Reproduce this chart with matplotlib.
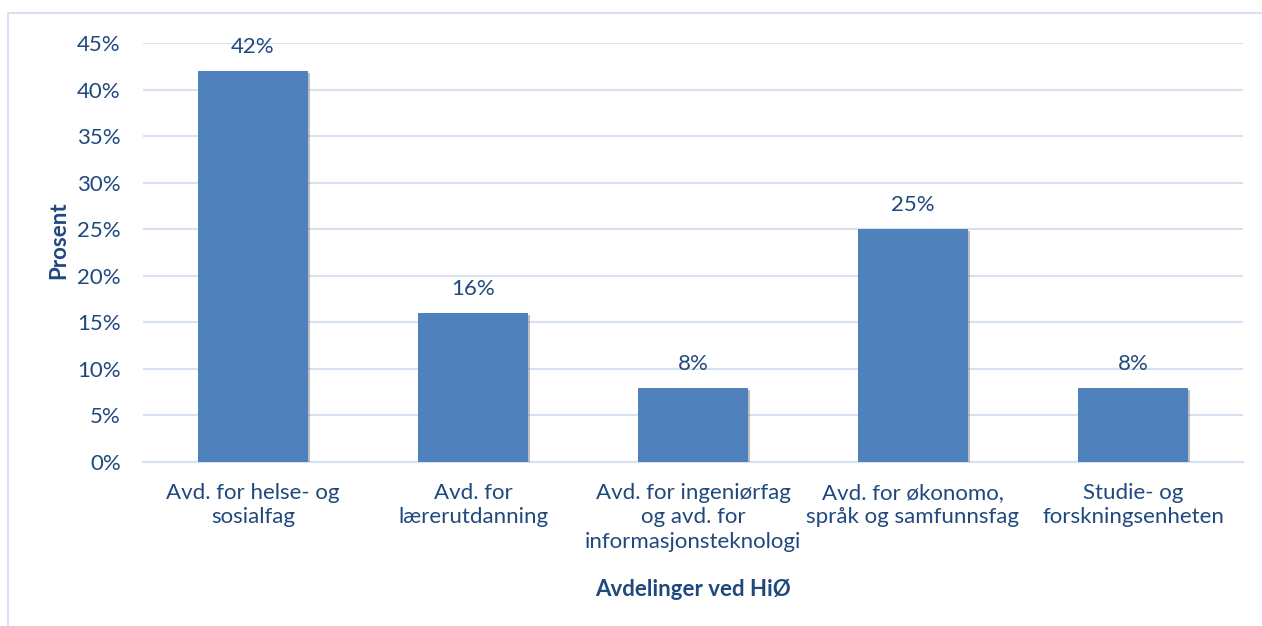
import matplotlib.pyplot as plt
import matplotlib.patches as mpatches
import matplotlib.patheffects as pe
from matplotlib.ticker import PercentFormatter

categories = ['Avd. for helse- og\nsosialfag', 'Avd. for\nlærerutdanning',
              'Avd. for ingeniørfag\nog avd. for\ninformasjonsteknologi',
              'Avd. for økonomo,\nspråk og samfunnsfag', 'Studie- og\nforskningsenheten']
values = [42, 16, 8, 25, 8]
yticks = [0, 5, 10, 15, 20, 25, 30, 35, 40, 45]

text_col = '#1F497D'
grid_col = '#D6E2F2'
fs = 16

plt.rcParams['font.family'] = ['Lato', 'DejaVu Sans']

fig = plt.figure(figsize=(12.62, 6.26), dpi=100)
ax = fig.add_axes([143 / 1262, 1 - 462 / 626, 1100 / 1262, 419 / 626])

x = range(len(categories))
bars = ax.bar(x, values, width=0.5, color='#4F81BD', zorder=3)
for b in bars:
    b.set_path_effects([pe.SimplePatchShadow(offset=(1.5, -1.5), shadow_rgbFace='#808080', alpha=0.5),
                        pe.Normal()])
for xi, v in zip(x, values):
    ax.annotate(f'{v}%', (xi, v), xytext=(0, 10), textcoords='offset points',
                ha='center', va='bottom', fontsize=fs, color=text_col)

ax.set_xlim(-0.5, len(categories) - 0.5)
ax.set_ylim(0, 45)
ax.set_yticks(yticks)
ax.yaxis.set_major_formatter(PercentFormatter(decimals=0))
ax.set_xticks(list(x))
ax.set_xticklabels(categories, fontsize=fs, color=text_col, linespacing=1.28)
ax.tick_params(axis='y', length=0, labelsize=fs, labelcolor=text_col, pad=16)
ax.tick_params(axis='x', length=0, pad=15)
ax.grid(axis='y', color=grid_col, lw=1.5, zorder=0)
for s in ['top', 'right', 'left']:
    ax.spines[s].set_visible(False)
ax.spines['bottom'].set_color(grid_col)
ax.spines['bottom'].set_linewidth(1.5)

ax.set_ylabel('Prosent', fontsize=fs, fontweight='bold', color=text_col)
ax.yaxis.set_label_coords(-74 / 1100, 0.53)
fig.text(693 / 1262, 1 - 590 / 626, 'Avdelinger ved HiØ', ha='center', va='center',
         fontsize=fs, fontweight='bold', color=text_col)

# chart border
fig.patches.append(mpatches.Rectangle((8 / 1262, -0.05), 1.2, 1 - 13 / 626 + 0.05,
                                      transform=fig.transFigure, fill=False,
                                      edgecolor='#D6E2F1', lw=1.5))

fig.savefig('out.png', dpi=100)
